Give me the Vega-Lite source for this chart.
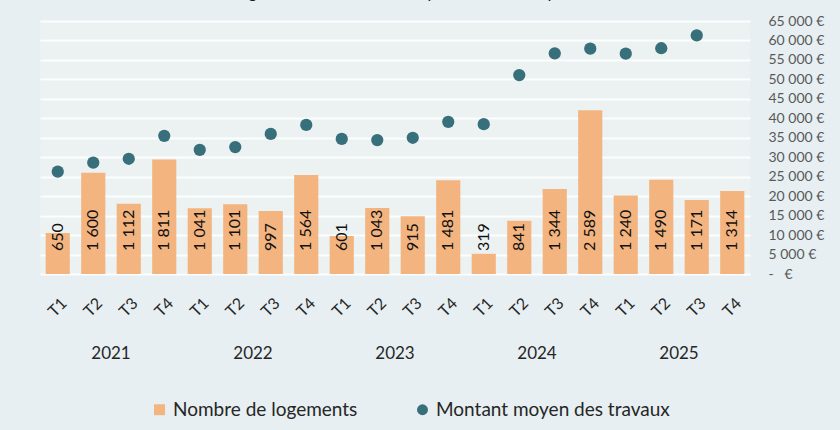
{
  "$schema": "https://vega.github.io/schema/vega-lite/v6.json",
  "width": 710,
  "height": 253,
  "padding": {"left": 40, "top": -16, "right": 30, "bottom": 30},
  "background": "#e7eff2",
  "title": {"text": "Nombre de logements et montant moyen des travaux par trimestre", "font": "Lato", "fontSize": 17, "fontWeight": "normal", "color": "#1a1a1a", "anchor": "middle", "offset": 12},
  "config": {
    "locale": {"number": {"decimal": ",", "thousands": " ", "grouping": [3], "currency": ["", " €"]}},
    "view": {"fill": "#ecf1f2", "stroke": null},
    "font": "Lato"
  },
  "data": {"values": [
    {"periode": "2021 T1", "logements": 650, "montant": 26300},
    {"periode": "2021 T2", "logements": 1600, "montant": 28600},
    {"periode": "2021 T3", "logements": 1112, "montant": 29600},
    {"periode": "2021 T4", "logements": 1811, "montant": 35500},
    {"periode": "2022 T1", "logements": 1041, "montant": 31900},
    {"periode": "2022 T2", "logements": 1101, "montant": 32600},
    {"periode": "2022 T3", "logements": 997, "montant": 36000},
    {"periode": "2022 T4", "logements": 1564, "montant": 38300},
    {"periode": "2023 T1", "logements": 601, "montant": 34700},
    {"periode": "2023 T2", "logements": 1043, "montant": 34400},
    {"periode": "2023 T3", "logements": 915, "montant": 35000},
    {"periode": "2023 T4", "logements": 1481, "montant": 39100},
    {"periode": "2024 T1", "logements": 319, "montant": 38500},
    {"periode": "2024 T2", "logements": 841, "montant": 51100},
    {"periode": "2024 T3", "logements": 1344, "montant": 56700},
    {"periode": "2024 T4", "logements": 2589, "montant": 57900},
    {"periode": "2025 T1", "logements": 1240, "montant": 56600},
    {"periode": "2025 T2", "logements": 1490, "montant": 58000},
    {"periode": "2025 T3", "logements": 1171, "montant": 61300},
    {"periode": "2025 T4", "logements": 1314, "montant": null}
  ]},
  "encoding": {
    "x": {"field": "periode", "type": "nominal", "sort": null,
      "scale": {"paddingInner": 0.32, "paddingOuter": 0.16}}
  },
  "layer": [
    {
      "mark": {"type": "bar", "color": "#f3b47f"},
      "encoding": {
        "x": {"field": "periode", "type": "nominal", "sort": null,
          "axis": {"orient": "bottom", "title": null, "domain": false, "ticks": false, "labelExpr": "slice(datum.value, 5)", "labelAngle": -45, "labelAlign": "center", "labelBaseline": "middle", "labelPadding": 33, "labelFontSize": 16, "labelColor": "#262626", "labelOverlap": false}},
        "y": {"field": "logements", "type": "quantitative", "scale": {"domain": [0, 4000], "nice": false}, "axis": null},
        "color": {"datum": "Nombre de logements", "type": "nominal",
          "scale": {"domain": ["Nombre de logements", "Montant moyen des travaux"], "range": ["#f3b47f", "#376f7b"]},
          "legend": {"orient": "none", "legendX": 110, "legendY": 379, "direction": "horizontal", "title": null, "labelFontSize": 19, "labelLimit": 400, "labelColor": "#262626", "symbolSize": 120, "columnPadding": 55, "labelOffset": 4, "symbolOpacity": 1,
            "encode": {"symbols": {"update": {"shape": {"signal": "datum.value === 'Nombre de logements' ? 'square' : 'circle'"}, "fill": {"signal": "datum.value === 'Nombre de logements' ? '#f3b47f' : '#376f7b'"}, "strokeWidth": {"value": 0}}}}}}
      }
    },
    {
      "mark": {"type": "text", "angle": 270, "align": "left", "baseline": "middle", "dx": 23, "fontSize": 16, "color": "#111111"},
      "encoding": {
        "x": {"field": "periode", "type": "nominal", "sort": null, "axis": null},
        "y": {"datum": 0, "type": "quantitative", "scale": {"domain": [0, 4000], "nice": false}, "axis": null},
        "text": {"field": "logements", "type": "quantitative", "format": ",d"}
      }
    },
    {
      "transform": [{"filter": "datum.montant != null"}],
      "mark": {"type": "point", "filled": true, "size": 150, "opacity": 1},
      "encoding": {
        "x": {"field": "periode", "type": "nominal", "sort": null,
          "axis": {"orient": "bottom", "title": null, "domain": false, "ticks": false, "grid": false, "labelExpr": "indexof(datum.value, 'T2') > 0 ? slice(datum.value, 0, 4) : ''", "labelOffset": 17.75, "labelAngle": 0, "labelAlign": "center", "labelBaseline": "top", "labelFontSize": 17, "labelColor": "#262626", "labelPadding": 5, "offset": 66, "labelOverlap": false}},
        "y": {"field": "montant", "type": "quantitative", "scale": {"domain": [0, 65000], "nice": false},
          "axis": {"orient": "right", "title": null, "domain": false, "ticks": false, "values": [0,5000,10000,15000,20000,25000,30000,35000,40000,45000,50000,55000,60000,65000], "labelExpr": "datum.value == 0 ? '-\u00a0\u00a0\u00a0€' : replace(format(datum.value, ','), ',', ' ') + ' €'", "labelAlign": "left", "labelPadding": 18, "labelFontSize": 14, "labelColor": "#595959", "grid": true, "gridColor": "#ffffff", "gridWidth": 2, "gridOpacity": 0.9}},
        "color": {"datum": "Montant moyen des travaux", "type": "nominal"}
      }
    }
  ],
  "resolve": {"scale": {"y": "independent"}, "axis": {"x": "independent"}}
}
